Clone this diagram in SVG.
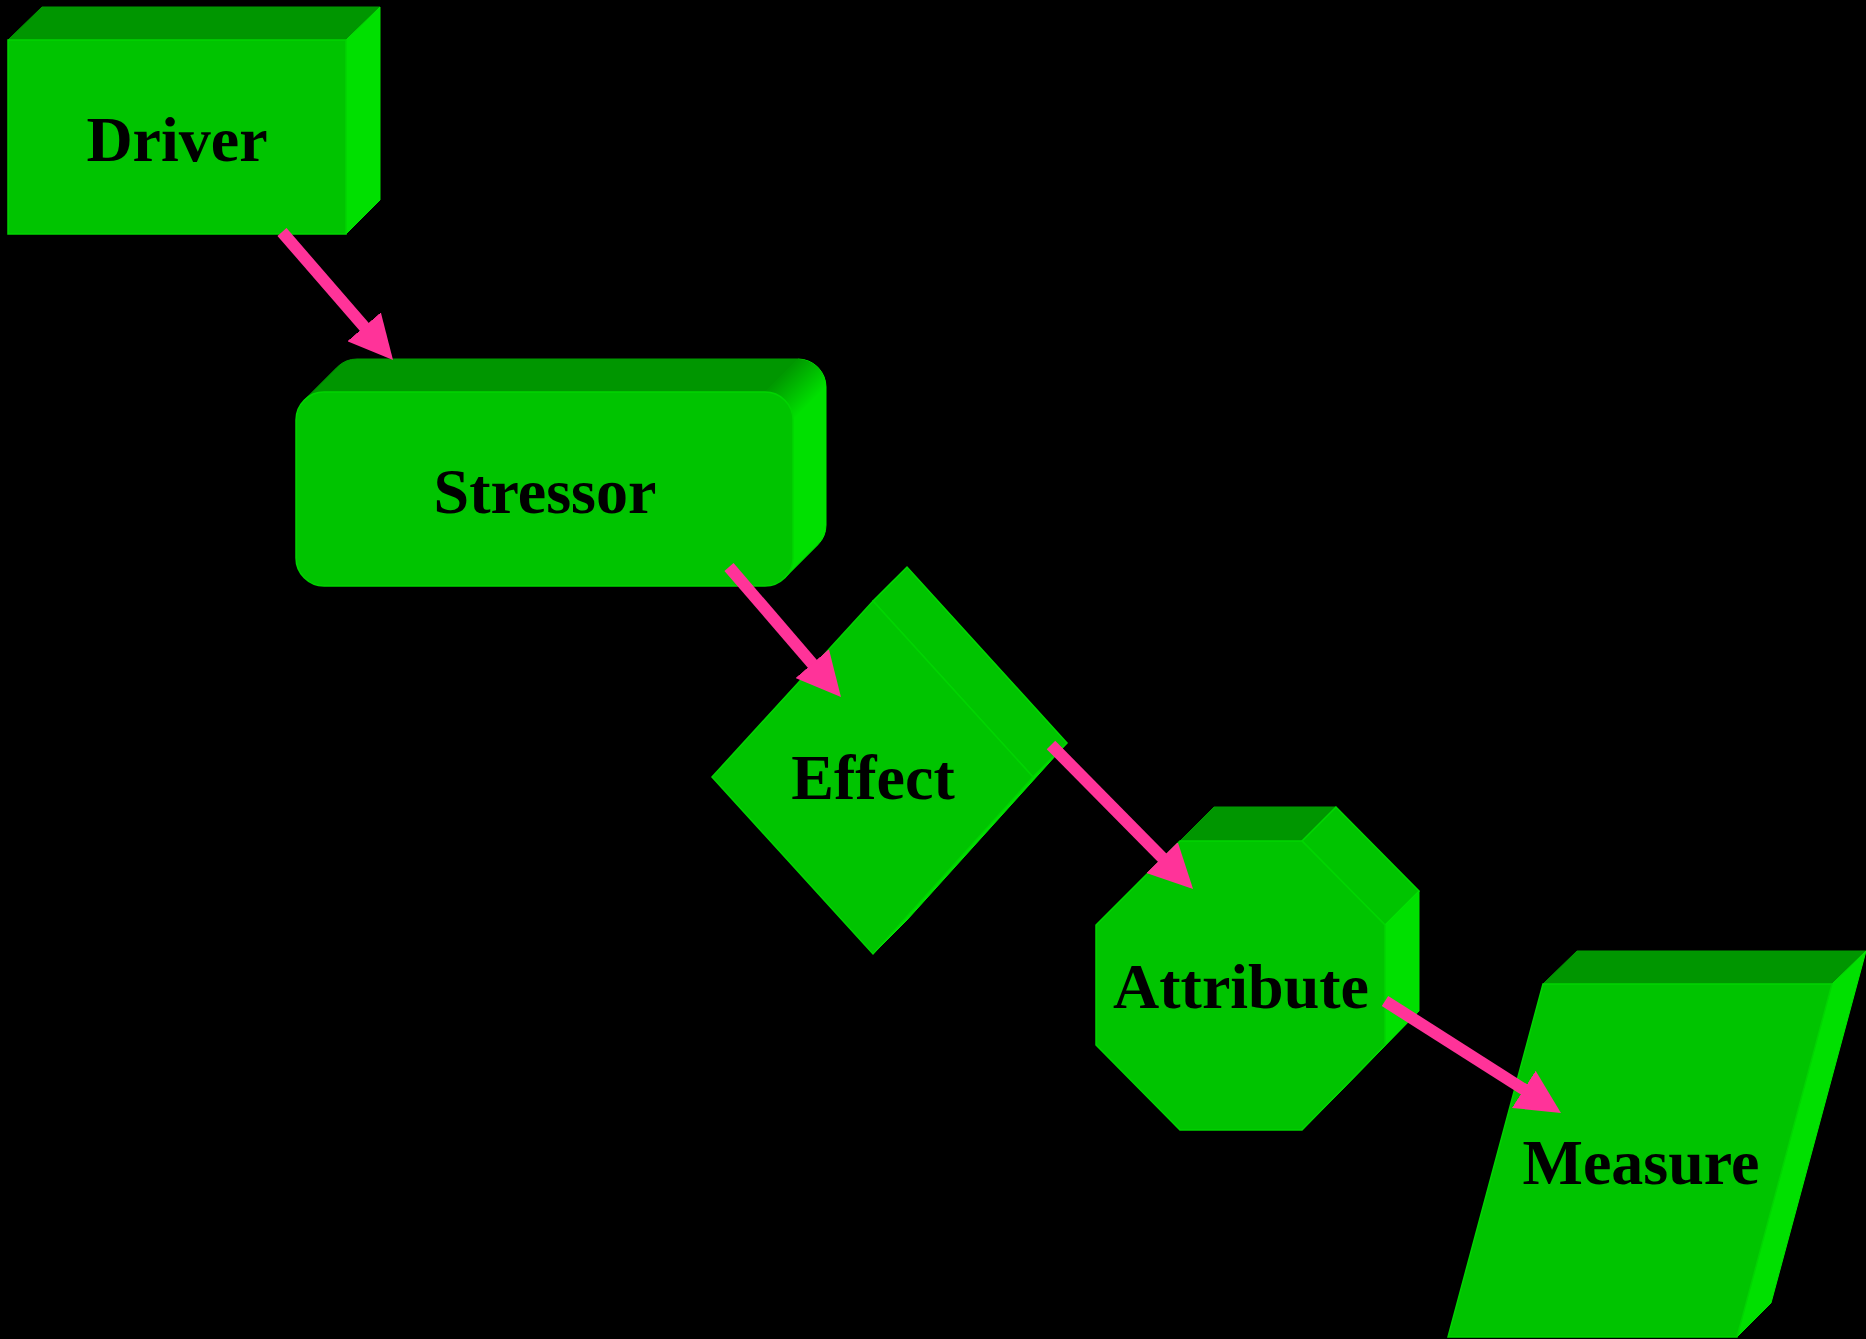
<svg xmlns="http://www.w3.org/2000/svg" width="1866" height="1339" viewBox="0 0 1866 1339">
  <defs>
    <style>
      .front { fill: #00c400; stroke: #00d400; stroke-width: 1.5; stroke-linejoin: miter; }
      .top { fill: #009600; stroke: #009a00; stroke-width: 1; }
      .side { fill: #00e000; stroke: #00e400; stroke-width: 1; }
      .face { fill: #00c400; stroke: #00d800; stroke-width: 1.5; }
      .label { font-family: "Liberation Serif", "Times New Roman", serif; font-weight: bold; font-size: 64px; fill: #000000; text-anchor: middle; }
      .edge { stroke: #ff3399; stroke-width: 12; fill: none; marker-end: url(#head); }
    </style>
    <!-- shading across the rounded top-right corner of the Stressor box -->
    <linearGradient id="cornerShade" gradientUnits="userSpaceOnUse" x1="780" y1="375" x2="809" y2="404">
      <stop offset="0" stop-color="#009600"/>
      <stop offset="1" stop-color="#00e000"/>
    </linearGradient>
    <marker id="head" markerUnits="userSpaceOnUse" viewBox="0 -22 44 44" refX="20" refY="0" markerWidth="44" markerHeight="44" orient="auto">
      <path d="M0,-22 L44,0 L0,22 Z" fill="#ff3399"/>
    </marker>
  </defs>

  <rect x="0" y="0" width="1866" height="1339" fill="#000000"/>

  <!-- Driver: box -->
  <g id="driver">
    <polygon class="top" points="8,40 42,7 380,7 346,40"/>
    <polygon class="side" points="346,40 380,7 380,200 346,234"/>
    <rect class="front" x="8" y="40" width="338" height="194"/>
    <text class="label" x="177" y="161">Driver</text>
  </g>

  <!-- Stressor: rounded box -->
  <g id="stressor">
    <path class="side" d="M765,392 L798,359 A28,28 0 0 1 826,387 L826,525 A28,28 0 0 1 817.8,544.8 L784.8,577.8 Z"/>
    <path d="M765,392 L798,359 A28,28 0 0 1 826,387 L793,420 A28,28 0 0 0 765,392 Z" fill="url(#cornerShade)"/>
    <path class="top" d="M304.2,400.2 A28,28 0 0 1 324,392 L765,392 L798,359 L357,359 A28,28 0 0 0 337.2,367.2 Z"/>
    <rect class="front" x="296" y="392" width="497" height="194" rx="28" ry="28"/>
    <text class="label" x="545" y="513">Stressor</text>
  </g>

  <!-- Effect: diamond -->
  <g id="effect">
    <polygon class="side" points="1033,777 1067,743 907,920 873,954"/>
    <polygon class="face" points="873,601 907,567 1067,743 1033,777"/>
    <polygon class="front" points="712,777 873,601 1033,777 873,954"/>
    <text class="label" x="873" y="799">Effect</text>
  </g>

  <!-- Attribute: octagon -->
  <g id="attribute">
    <polygon class="top" points="1180,841 1214,807 1336,807 1302,841"/>
    <polygon class="face" points="1302,841 1336,807 1419,891 1385,925"/>
    <polygon class="side" points="1385,925 1419,891 1419,1011 1385,1045"/>
    <polygon class="side" points="1385,1045 1419,1011 1336,1096 1302,1130"/>
    <polygon class="front" points="1180,841 1302,841 1385,925 1385,1045 1302,1130 1180,1130 1096,1045 1096,925"/>
    <text class="label" x="1241" y="1008">Attribute</text>
  </g>

  <!-- Measure: parallelogram -->
  <g id="measure">
    <polygon class="top" points="1543,984 1577,951 1866,951 1832,984"/>
    <polygon class="side" points="1832,984 1866,951 1771,1303 1737,1337"/>
    <polygon class="front" points="1543,984 1832,984 1737,1337 1448,1337"/>
    <text class="label" x="1641" y="1184">Measure</text>
  </g>

  <!-- Connectors -->
  <g id="connectors">
    <line class="edge" x1="282" y1="232" x2="377.3" y2="341.9"/>
    <line class="edge" x1="729" y1="567" x2="825.3" y2="678.8"/>
    <line class="edge" x1="1051" y1="745" x2="1176.2" y2="871.9"/>
    <line class="edge" x1="1385" y1="1001" x2="1540.7" y2="1100.1"/>
  </g>
</svg>
